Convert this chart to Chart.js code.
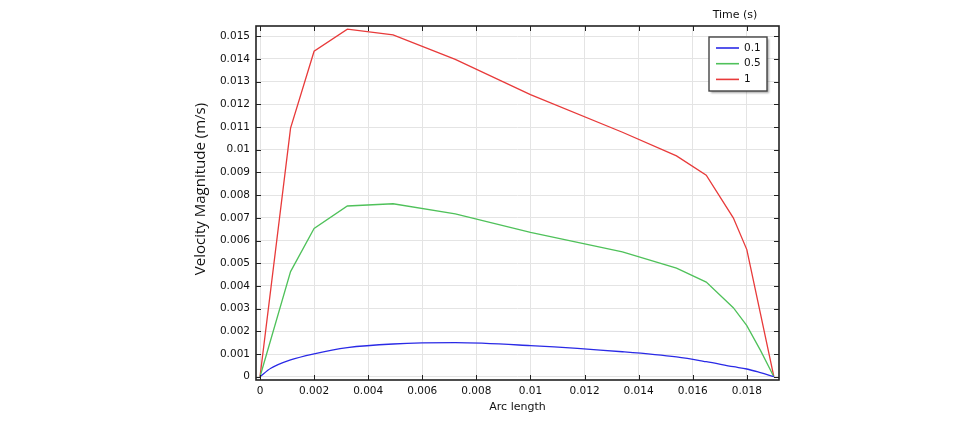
<!DOCTYPE html>
<html>
<head>
<meta charset="utf-8">
<script src="https://cdn.jsdelivr.net/npm/chart.js@4"></script>
<style>
  html, body { margin: 0; padding: 0; background: #fff; }
  #wrap { width: 980px; height: 427px; }
</style>
</head>
<body>
<div id="wrap"><canvas id="myChart"></canvas></div>
<script>
// ====== DATA ======
const arcLen = [0, 0.00113, 0.002, 0.00323, 0.00492, 0.00722, 0.0100, 0.0134, 0.0154, 0.0165, 0.0175, 0.0180, 0.0185, 0.0190];
const vel1 = [0, 0.01095, 0.01434, 0.01531, 0.01506, 0.01398, 0.01243, 0.01077, 0.00973, 0.00888, 0.00700, 0.00560, 0.0028, 0];
const vel05 = [0, 0.00463, 0.00653, 0.00752, 0.00762, 0.00717, 0.00636, 0.00550, 0.00478, 0.00417, 0.00304, 0.00225, 0.00117, 0];
const arcLenBlue = [0, 0.0004, 0.00113, 0.002, 0.00323, 0.00492, 0.00722, 0.0100, 0.0134, 0.0154, 0.0165, 0.0175, 0.0180, 0.0185, 0.0190];
const vel01 = [0, 0.00037, 0.00074, 0.00101, 0.00128, 0.00144, 0.0015, 0.00137, 0.0011, 0.00087, 0.00066, 0.00044, 0.00034, 0.00018, 0];
const seriesLabels = ["0.1", "0.5", "1"];
const xTicks = [0, 0.002, 0.004, 0.006, 0.008, 0.01, 0.012, 0.014, 0.016, 0.018];
const yTicks = [0, 0.001, 0.002, 0.003, 0.004, 0.005, 0.006, 0.007, 0.008, 0.009, 0.01, 0.011, 0.012, 0.013, 0.014, 0.015];

const tickFont = { family: "DejaVu Sans", size: 10.5 };
const fmt = v => String(parseFloat(v.toFixed(4)));
const zip = (xs, ys) => xs.map((x, i) => ({ x: x, y: ys[i] }));

// frame, inward ticks, y title and legend box
const decorations = {
  id: "decorations",
  afterDraw(chart) {
    const c = chart.ctx;
    const a = chart.chartArea;
    const xs = chart.scales.x, ys = chart.scales.y;
    c.save();
    c.strokeStyle = "#222";
    c.lineWidth = 1;
    c.beginPath();
    xTicks.forEach(v => {
      const px = Math.round(xs.getPixelForValue(v)) + 0.5;
      c.moveTo(px, a.bottom); c.lineTo(px, a.bottom - 5);
      c.moveTo(px, a.top); c.lineTo(px, a.top + 5);
    });
    yTicks.forEach(v => {
      const py = Math.round(ys.getPixelForValue(v)) + 0.5;
      c.moveTo(a.left, py); c.lineTo(a.left + 5, py);
      c.moveTo(a.right, py); c.lineTo(a.right - 5, py);
    });
    c.stroke();
    c.lineWidth = 1.6;
    c.strokeRect(a.left, a.top, a.right - a.left, a.bottom - a.top);

    // y title
    c.fillStyle = "#111";
    c.font = "15px 'Open Sans'";
    c.textAlign = "center";
    c.textBaseline = "middle";
    c.translate(201, 189);
    c.rotate(-Math.PI / 2);
    c.fillText("Velocity Magnitude (m/s)", 0, 0);
    c.restore();

    // legend
    c.save();
    const bx = a.right - 70, by = a.top + 11, bw = 58, bh = 54;
    c.shadowColor = "rgba(0,0,0,0.35)";
    c.shadowOffsetX = 2; c.shadowOffsetY = 2; c.shadowBlur = 2;
    c.fillStyle = "#fff";
    c.fillRect(bx, by, bw, bh);
    c.shadowColor = "transparent";
    c.strokeStyle = "#444";
    c.lineWidth = 1.4;
    c.strokeRect(bx, by, bw, bh);
    c.font = "10.5px 'DejaVu Sans'";
    c.textBaseline = "middle";
    c.textAlign = "left";
    chart.data.datasets.forEach((ds, i) => {
      const ly = by + 11 + i * 15.7;
      c.strokeStyle = ds.borderColor;
      c.lineWidth = 1.6;
      c.beginPath(); c.moveTo(bx + 7, ly); c.lineTo(bx + 30, ly); c.stroke();
      c.fillStyle = "#111";
      c.fillText(ds.label, bx + 35, ly);
    });
    c.font = "11px 'DejaVu Sans'";
    c.textAlign = "center";
    c.fillText("Time (s)", bx + bw / 2 - 3, 15);
    c.restore();
  }
};

function createChart() {
  return new Chart(document.getElementById("myChart"), {
    type: "line",
    data: {
      datasets: [
        { label: seriesLabels[0], data: zip(arcLenBlue, vel01), borderColor: "#2a2ae6", cubicInterpolationMode: "monotone" },
        { label: seriesLabels[1], data: zip(arcLen, vel05), borderColor: "#4fc15a" },
        { label: seriesLabels[2], data: zip(arcLen, vel1), borderColor: "#e83a3a" },
      ],
    },
    options: {
      responsive: true,
      maintainAspectRatio: false,
      animation: false,
      layout: { padding: { top: 26, right: 201, left: 0, bottom: 0 } },
      elements: {
        point: { radius: 0 },
        line: { borderWidth: 1.3, tension: 0 },
      },
      plugins: { legend: { display: false }, tooltip: { enabled: false } },
      scales: {
        x: {
          type: "linear",
          min: -0.000148,
          max: 0.01919,
          afterBuildTicks: s => { s.ticks = xTicks.map(v => ({ value: v })); },
          afterFit: s => { s.height = 47; },
          grid: { color: "#e4e4e4", drawTicks: false },
          border: { display: false },
          ticks: { font: tickFont, color: "#111", padding: 5, autoSkip: false, maxRotation: 0, callback: fmt },
          title: { display: true, text: "Arc length", font: { family: "DejaVu Sans", size: 11 }, color: "#111", padding: { top: 0, bottom: 13 } },
        },
        y: {
          type: "linear",
          min: -0.000145,
          max: 0.01545,
          afterBuildTicks: s => { s.ticks = yTicks.map(v => ({ value: v })); },
          afterFit: s => { s.width = 256; },
          grid: { color: "#e4e4e4", drawTicks: false },
          border: { display: false },
          ticks: { font: tickFont, color: "#111", padding: 6, autoSkip: false, callback: fmt },
        },
      },
    },
    plugins: [decorations],
  });
}

createChart();
</script>
</body>
</html>
